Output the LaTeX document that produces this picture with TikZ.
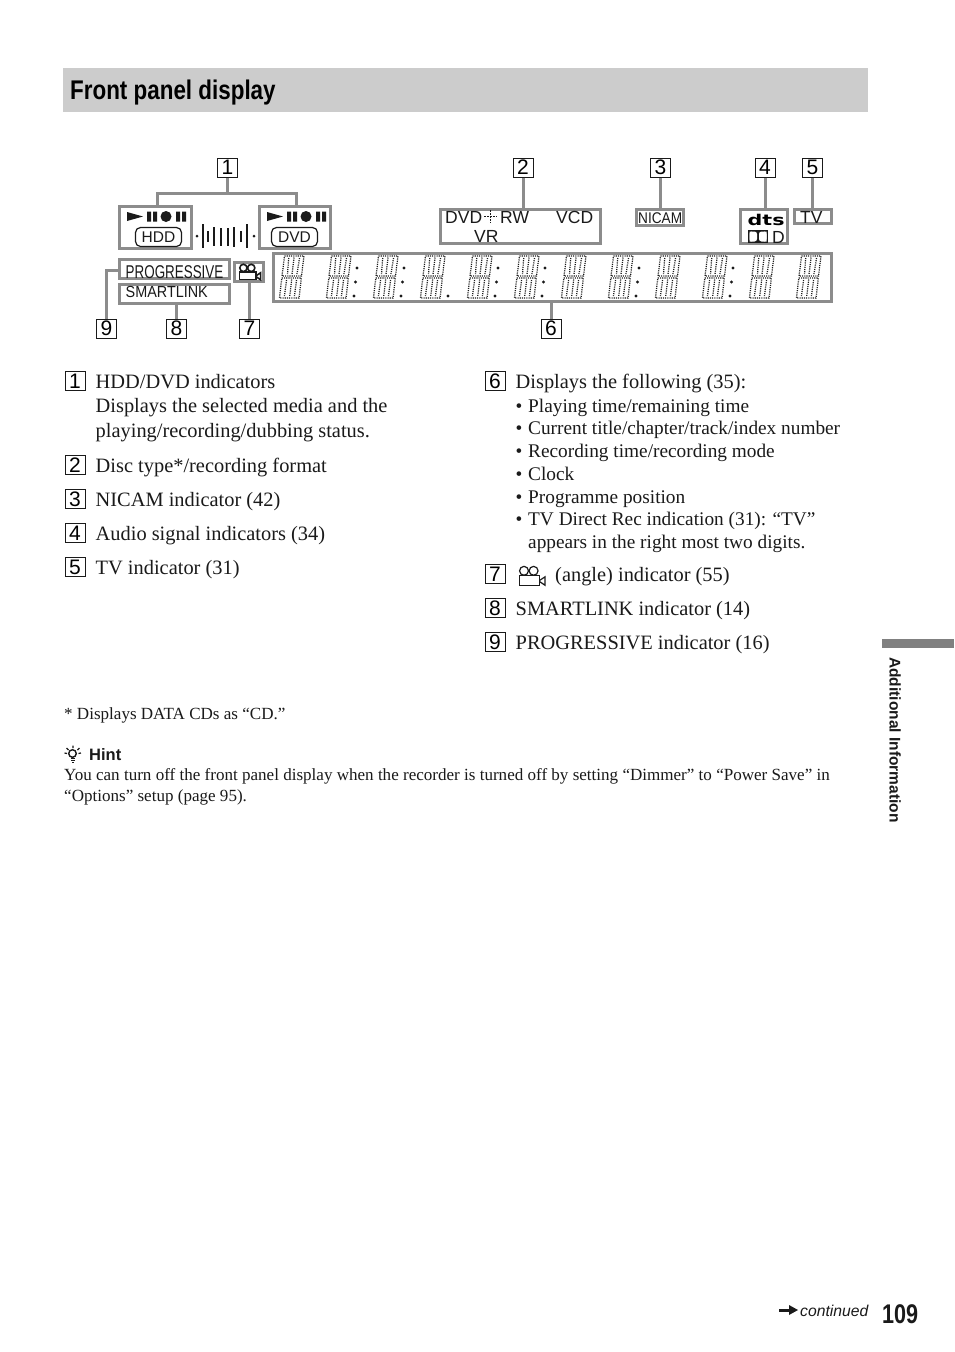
\documentclass[tikz,border=0pt]{standalone}
\usepackage{fontspec}
\usepackage{graphicx}
\setmainfont{Liberation Serif}
\setsansfont{Liberation Sans}
\newfontfamily\logofont{DejaVu Sans}
\definecolor{panelgray}{HTML}{8C8C8C}
\definecolor{barfill}{HTML}{CCCCCC}
\definecolor{tabgray}{HTML}{808080}
\definecolor{inkblack}{HTML}{1A1A1A}
\newcommand{\fsz}[1]{\fontsize{#1}{#1}\selectfont}
\tikzset{
  x=1pt,y=-1pt,
  numbox/.style={draw=inkblack,line width=1pt,minimum width=20pt,minimum height=19pt,inner sep=0pt,font=\sffamily\fsz{21},text=black},
  panelbox/.style={draw=panelgray,line width=3pt,inner sep=0pt,outer sep=0pt,anchor=north west},
  lead/.style={draw=panelgray,line width=3pt},
  body/.style={anchor=base west,inner sep=0pt,font=\fsz{20.4},text=inkblack},
  small/.style={anchor=base west,inner sep=0pt,font=\fsz{19.3},text=inkblack},
  foot/.style={anchor=base west,inner sep=0pt,font=\fsz{17.05},text=inkblack},
  lcd/.style={anchor=base west,inner sep=0pt,font=\sffamily\fsz{17.5},text=inkblack},
  seg/.style={draw=inkblack,line width=1.25pt,dash pattern=on 1.1pt off 1.1pt},
  ink/.style={fill=inkblack,draw=none},
  pill/.style={draw=inkblack,line width=1.2pt,rounded corners=5pt,minimum width=46pt,minimum height=19pt,inner sep=0pt,font=\sffamily\fsz{15.5},text=inkblack}
}
\newcommand{\dispdigit}[2]{%
  \begin{scope}[shift={(#1,#2)}]
    \draw[seg] (5.5,0)--(25,0)--(22.5,20)--(3,20)--cycle;
    \draw[seg] (2.8,22)--(22.3,22)--(20,42)--(0.5,42)--cycle;
    \draw[seg] (15,1.5)--(13,18.5) (12.7,23.5)--(10.7,40.5);
    \draw[seg] (9.7,2)--(8.5,18) (20.5,2)--(18,18);
    \draw[seg] (7.5,24)--(5.5,40) (17.5,24)--(15.5,40);
  \end{scope}}
\newcommand{\dispcolon}[1]{%
  \fill[ink] (#1+1,268) circle (1.6) (#1-0.5,282) circle (1.6);}
\newcommand{\dispdot}[1]{\fill[ink] (#1-1,296) circle (1.6);}
\newcommand{\transport}[1]{%
  \begin{scope}[shift={(#1,0)}]
    \fill[ink] (0,212)--(16,216.5)--(0,221)--cycle;
    \fill[ink] (20,211.5) rectangle (24,221.5) (26,211.5) rectangle (30,221.5);
    \fill[ink] (39,216.5) circle (5.5);
    \fill[ink] (49,211.5) rectangle (53,221.5) (55,211.5) rectangle (59,221.5);
  \end{scope}}
\newcommand{\cameraicon}[4]{%
  \begin{scope}[shift={(#1,#2)},scale=#3,line width=#4,draw=inkblack]
    \draw (5,4) circle (3.7) (13,4) circle (3.7);
    \draw (1,8) rectangle (18,16);
    \draw (18,12)--(22.5,9)--(22.5,16)--(18,13);
  \end{scope}}
\begin{document}
\begin{tikzpicture}
\useasboundingbox (0,0) rectangle (954,1352);
\fill[white] (0,0) rectangle (954,1352);
% title bar
\fill[barfill] (63,68) rectangle (868,112);
\node[anchor=base west,inner sep=0pt,text=black] (title) at (70,99) {\scalebox{0.83}[1]{\sffamily\bfseries\fsz{27}Front panel display}};
% panel boxes
\node[panelbox,minimum width=72pt,minimum height=42pt] (hdd) at (119.5,206.5) {};
\node[panelbox,minimum width=71pt,minimum height=42pt] (dvd) at (259.5,206.5) {};
\node[panelbox,minimum width=110pt,minimum height=19pt] (prog) at (119.5,259.5) {};
\node[panelbox,minimum width=110pt,minimum height=19pt] (smart) at (119.5,284.5) {};
\node[panelbox,minimum width=29pt,minimum height=19pt] (angle) at (234.5,262.5) {};
\node[panelbox,minimum width=558pt,minimum height=48pt] (disp) at (273.5,253.5) {};
\node[panelbox,minimum width=160pt,minimum height=34pt] (disc) at (440.5,209.5) {};
\node[panelbox,minimum width=47pt,minimum height=16pt] (nicam) at (636.5,209.5) {};
\node[panelbox,minimum width=47pt,minimum height=34pt] (audio) at (740.5,209.5) {};
\node[panelbox,minimum width=37pt,minimum height=14pt] (tv) at (794.5,209.5) {};
% number boxes
\node[numbox] (n1) at (227.5,167.5) {1};
\node[numbox] (n2) at (523,167.5) {2};
\node[numbox] (n3) at (660.5,167.5) {3};
\node[numbox] (n4) at (765,167.5) {4};
\node[numbox] (n5) at (812.5,167.5) {5};
\node[numbox] (n6) at (551,328.5) {6};
\node[numbox] (n7) at (249.5,328.5) {7};
\node[numbox] (n8) at (176.5,328.5) {8};
\node[numbox] (n9) at (106.5,328.5) {9};
% leaders
\coordinate (j1) at (227.5,193);
\draw[lead] (n1.south)--(j1);
\draw[lead] (hdd.north-|157,0)--(157,193)--(296,193)--(dvd.north-|296,0);
\draw[lead] (n2.south)--(disc.north-|n2.south);
\draw[lead] (n3.south)--(nicam.north-|n3.south);
\draw[lead] (n4.south)--(audio.north-|n4.south);
\draw[lead] (n5.south)--(tv.north-|n5.south);
\draw[lead] (n6.north)--(disp.south-|n6.north);
\draw[lead] (n7.north)--(angle.south-|n7.north);
\draw[lead] (n8.north)--(smart.south-|n8.north);
\draw[lead] (n9.north)--(106.5,270)--(prog.west|-0,270);
% transport icons and pills
\transport{127}
\transport{267}
\node[pill] (hddp) at (158.5,237) {HDD};
\node[pill] (dvdp) at (294.5,237) {DVD};
% level meter
\fill[ink] (197,236) circle (1.5) (254,236) circle (1.5);
\draw[inkblack,line width=2pt]
  (202.7,224)--(202.7,248) (208,231)--(208,242) (214,227)--(214,246)
  (221,228)--(221,246) (227.5,228)--(227.5,246) (234,227)--(234,247) (241,231)--(241,242)
  (247,224)--(247,248);
% lcd texts
\node[lcd,font=\sffamily\fsz{18.5}] (tprog) at (125.5,278) {\scalebox{0.725}[1]{PROGRESSIVE}};
\node[lcd,font=\sffamily\fsz{16}] (tsmart) at (125.5,297) {\scalebox{0.9}[1]{SMARTLINK}};
\cameraicon{238.5}{264}{0.98}{1.6pt}
\node[lcd] (tdvd) at (445,223) {DVD};
\draw[inkblack,line width=1pt,dash pattern=on 2pt off 1pt] (484,216.5)--(497,216.5) (490.5,210)--(490.5,223);
\node[lcd] (trw) at (500,223) {RW};
\node[lcd] (tvcd) at (556,223) {VCD};
\node[lcd] (tvr) at (474,242) {VR};
\node[lcd,font=\sffamily\fsz{15.5}] (tnicam) at (638,223) {\scalebox{0.88}[1]{NICAM}};
\node[lcd] (ttv) at (800,223) {TV};
\node[anchor=base west,inner sep=0pt,text=black] (tdts) at (747.5,225.5) {\scalebox{1.25}[0.9]{\logofont\bfseries\fsz{16.5}dts}};
\fill[ink] (748,230) rectangle (768,243);
\fill[white,rounded corners=2.5pt] (749.5,231.5) -- (757,231.5) -- (757,241.5) -- (749.5,241.5) -- cycle;
\fill[white,rounded corners=2.5pt] (766.5,231.5) -- (759,231.5) -- (759,241.5) -- (766.5,241.5) -- cycle;
\fill[white] (749.5,231.5) rectangle (752,241.5) (764,231.5) rectangle (766.5,241.5);
\node[lcd] (tdd) at (772,243) {D};
% display digits
\foreach \dx in {279,326,373,420,467,514,561,608,655,702,749,796}{\dispdigit{\dx}{256}}
\foreach \cx in {356,403,497,544,638,732}{\dispcolon{\cx}}
\foreach \cx in {355,402,449,496,543,637,731}{\dispdot{\cx}}
% list, left column
\node[numbox] (l1) at (75,381) {1};
\node[body] (a1) at (95.5,388) {HDD/DVD indicators};
\node[body] (a2) at (95.5,412) {Displays the selected media and the};
\node[body] (a3) at (95.5,437) {playing/recording/dubbing status.};
\node[numbox] (l2) at (75,465) {2};
\node[body] (b1) at (95.5,472) {Disc type*/recording format};
\node[numbox] (l3) at (75,499) {3};
\node[body] (c1) at (95.5,506) {NICAM indicator (42)};
\node[numbox] (l4) at (75,533) {4};
\node[body] (d1) at (95.5,540) {Audio signal indicators (34)};
\node[numbox] (l5) at (75,567) {5};
\node[body] (e1) at (95.5,574) {TV indicator (31)};
% list, right column
\node[numbox] (l6) at (495,381) {6};
\node[body] (f1) at (515.5,388) {Displays the following (35):};
\node[small] (g1) at (515.5,412) {•};\node[small] (g1t) at (528,412) {Playing time/remaining time};
\node[small] (g2) at (515.5,434) {•};\node[small] (g2t) at (528,434) {Current title/chapter/track/index number};
\node[small] (g3) at (515.5,457) {•};\node[small] (g3t) at (528,457) {Recording time/recording mode};
\node[small] (g4) at (515.5,480) {•};\node[small] (g4t) at (528,480) {Clock};
\node[small] (g5) at (515.5,503) {•};\node[small] (g5t) at (528,503) {Programme position};
\node[small] (g6) at (515.5,525) {•};\node[small] (g6t) at (528,525) {TV Direct Rec indication (31): “TV”};
\node[small] (g7t) at (528,548) {appears in the right most two digits.};
\node[numbox] (l7) at (495,574) {7};
\cameraicon{518}{566}{1.2}{1.2pt}
\node[body] (h1) at (555,581) {(angle) indicator (55)};
\node[numbox] (l8) at (495,608) {8};
\node[body] (i1) at (515.5,615) {SMARTLINK indicator (14)};
\node[numbox] (l9) at (495,642) {9};
\node[body] (j1t) at (515.5,649) {PROGRESSIVE indicator (16)};
% notes
\node[foot] (note) at (64,719) {* Displays DATA CDs as “CD.”};
\draw[inkblack,line width=1.4pt] (72.5,753.5) circle (3.8);
\draw[inkblack,line width=1.3pt] (71,758.5)--(74.5,758.5) (71,760.5)--(75,760.5) (72,762.5)--(74,762.5);
\draw[inkblack,line width=1.2pt] (73,745.5)--(73,748) (66.5,748)--(68.5,750) (79.5,748)--(77.5,750) (64.5,753)--(67,753.5) (81,753)--(78.5,753.5);
\node[anchor=base west,inner sep=0pt,font=\sffamily\bfseries\fsz{16.5},text=inkblack] (hint) at (89,760) {Hint};
\node[foot] (n1t) at (64,780) {You can turn off the front panel display when the recorder is turned off by setting “Dimmer” to “Power Save” in};
\node[foot] (n2t) at (64,801) {“Options” setup (page 95).};
% side tab
\fill[tabgray] (882,639) rectangle (954,648);
\node[anchor=north west,inner sep=0pt,rotate=-90,text=inkblack] (side) at (901,657) {\scalebox{1}[1]{\sffamily\bfseries\fsz{15.5}Additional Information}};
% footer
\fill[ink] (779,1308.5) rectangle (791,1311.5);
\fill[ink] (789,1305)--(798,1310)--(789,1315)--cycle;
\node[anchor=base west,inner sep=0pt,font=\sffamily\itshape\fsz{15.7},text=inkblack] (cont) at (800,1316) {continued};
\node[anchor=base west,inner sep=0pt,text=inkblack] (pg) at (882,1323) {\scalebox{0.8}[1]{\sffamily\bfseries\fsz{27}109}};
\end{tikzpicture}
\end{document}
